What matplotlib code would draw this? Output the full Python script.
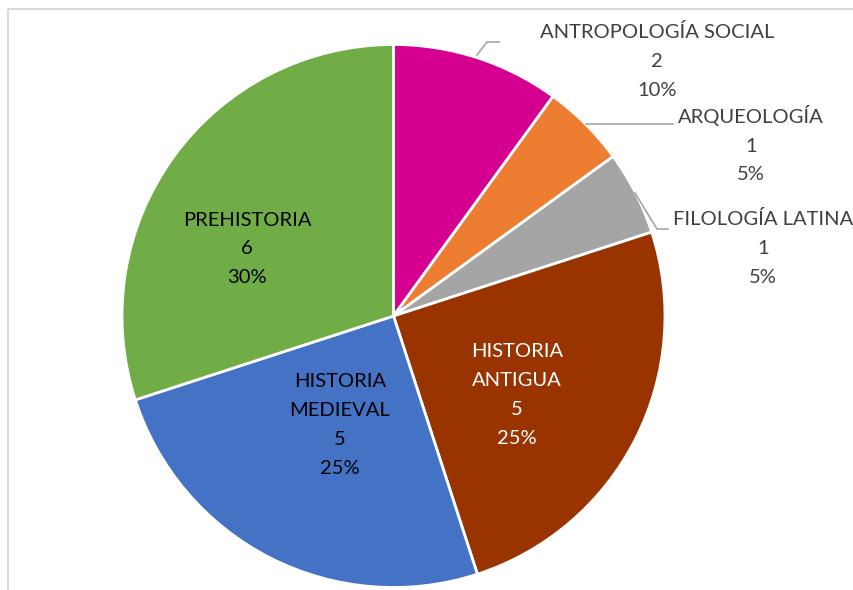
import numpy as np
import matplotlib.pyplot as plt
from matplotlib.patches import Rectangle

# Datos
categorias = ['ANTROPOLOGÍA SOCIAL', 'ARQUEOLOGÍA', 'FILOLOGÍA LATINA',
              'HISTORIA\nANTIGUA', 'HISTORIA\nMEDIEVAL', 'PREHISTORIA']
valores = [2, 1, 1, 5, 5, 6]
colores = ['#D5008F', '#ED7D31', '#A5A5A5', '#993300', '#4472C4', '#70AD47']
color_texto = ['#404040', '#404040', '#404040', 'white', 'black', 'black']

# posiciones de etiquetas (pixeles en la imagen)
pos_etiquetas = [(657, 61), (751, 144), (763, 248), (517, 395), (340, 425), (247, 249)]
# lineas guia (pixeles)
guias = [[(477, 55), (487, 42), (499, 42)],
         [(586, 124), (673, 124)],
         [(635, 193), (657, 229), (668, 229)],
         None, None, None]

W, H = 854, 590
fig = plt.figure(figsize=(W / 100, H / 100), dpi=100)
ax = fig.add_axes([0, 0, 1, 1])

# borde del area del grafico
ax.add_patch(Rectangle((8, 9), 900, 700, fill=False, edgecolor='#D9D9D9', lw=1.5))

total = sum(valores)
# eje y invertido -> counterclock=True se ve en sentido horario
ax.pie(valores, colors=colores, startangle=-90, counterclock=True,
       center=(393.5, 316), radius=271.5, frame=True,
       wedgeprops=dict(edgecolor='white', linewidth=2))
ax.set_xlim(0, W)
ax.set_ylim(H, 0)
ax.set_aspect('equal')
ax.axis('off')

for cat, v, pos, c, g in zip(categorias, valores, pos_etiquetas, color_texto, guias):
    txt = f'{cat}\n{v}\n{round(100 * v / total)}%'
    ax.text(pos[0], pos[1], txt, ha='center', va='center', color=c,
            fontsize=14.5, family='Lato', linespacing=1.85)
    if g:
        xs, ys = zip(*g)
        ax.plot(xs, ys, color='#A6A6A6', lw=1.2)

fig.savefig('out.png', dpi=100)
